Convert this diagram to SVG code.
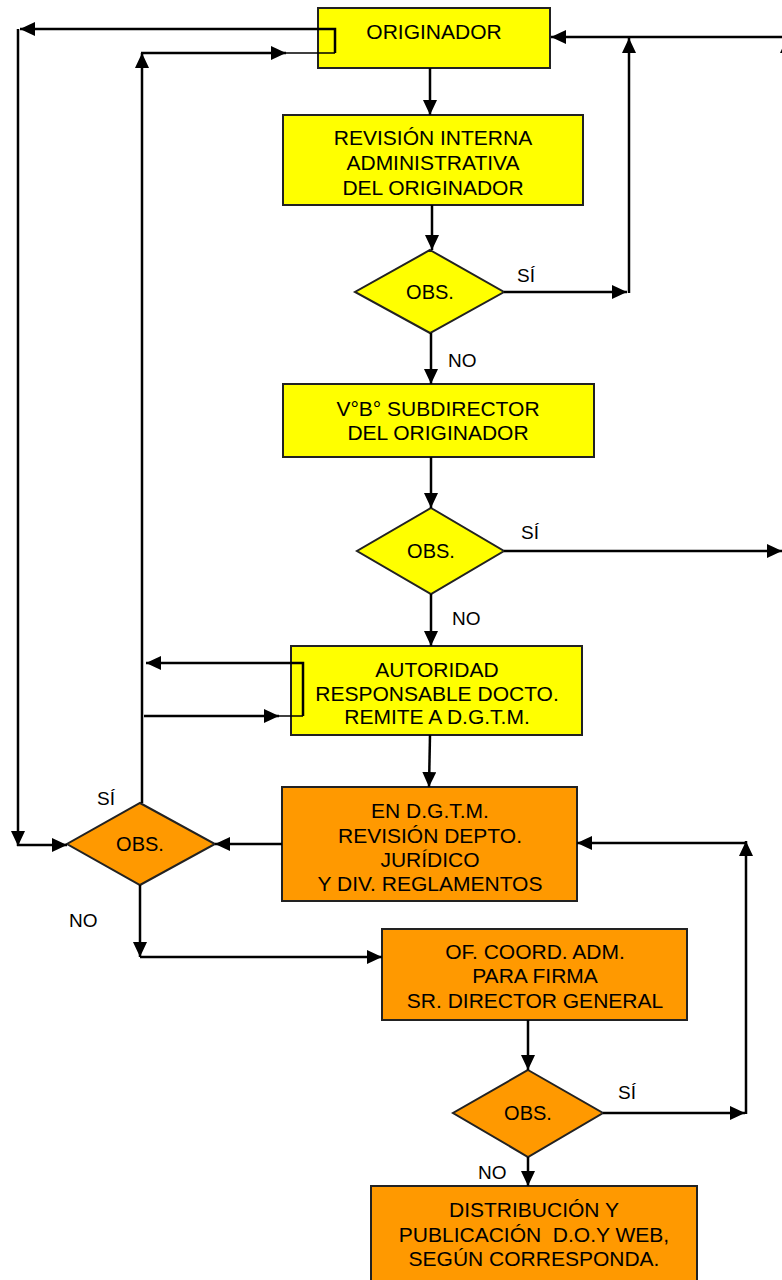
<svg xmlns="http://www.w3.org/2000/svg" width="782" height="1280" viewBox="0 0 782 1280">
<style>
.y{fill:#FFFF00;stroke:#222;stroke-width:2}
.o{fill:#FF9900;stroke:#222;stroke-width:2}
.t{font-family:"Liberation Sans",Arial,sans-serif;font-size:21px;fill:#000;text-anchor:middle}
.d{font-family:"Liberation Sans",Arial,sans-serif;font-size:20px;fill:#000;text-anchor:middle}
.l{font-family:"Liberation Sans",Arial,sans-serif;font-size:19px;fill:#000}
.c{fill:none;stroke:#000;stroke-width:2.5}
.th{fill:none;stroke:#000;stroke-width:1.5}
</style>
<defs>
<marker id="a" markerUnits="userSpaceOnUse" markerWidth="15" markerHeight="14" refX="15" refY="7" orient="auto">
<path d="M0,0 L15,7 L0,14 z" fill="#000"/>
</marker>
</defs>
<g id="n1"><rect class="y" x="318" y="8" width="232" height="60"/><text class="t" x="434" y="39">ORIGINADOR</text></g>
<g id="n2"><rect class="y" x="283" y="115" width="300" height="90"/><text class="t" x="433" y="145">REVISIÓN INTERNA</text><text class="t" x="433" y="170">ADMINISTRATIVA</text><text class="t" x="433" y="195">DEL ORIGINADOR</text></g>
<g id="d1"><polygon class="y" points="430,250 504,292 430,333 355,292"/><text class="d" x="430" y="299">OBS.</text></g>
<g id="n3"><rect class="y" x="283" y="384" width="311" height="73"/><text class="t" x="438" y="416">V°B° SUBDIRECTOR</text><text class="t" x="438" y="440">DEL ORIGINADOR</text></g>
<g id="d2"><polygon class="y" points="431,508 504,551 431,594 357,551"/><text class="d" x="431" y="558">OBS.</text></g>
<g id="n4"><rect class="y" x="291" y="646" width="291" height="89"/><text class="t" x="437" y="677">AUTORIDAD</text><text class="t" x="437" y="701">RESPONSABLE DOCTO.</text><text class="t" x="437" y="724">REMITE A D.G.T.M.</text></g>
<g id="n5"><rect class="o" x="282" y="787" width="295" height="114"/><text class="t" x="430" y="818">EN D.G.T.M.</text><text class="t" x="430" y="843">REVISIÓN DEPTO.</text><text class="t" x="430" y="867">JURÍDICO</text><text class="t" x="430" y="891">Y DIV. REGLAMENTOS</text></g>
<g id="d3"><polygon class="o" points="140,803 215,844 140,885 67,844"/><text class="d" x="140" y="851">OBS.</text></g>
<g id="n6"><rect class="o" x="382" y="929" width="305" height="91"/><text class="t" x="535" y="959">OF. COORD. ADM.</text><text class="t" x="535" y="983">PARA FIRMA</text><text class="t" x="535" y="1008">SR. DIRECTOR GENERAL</text></g>
<g id="d4"><polygon class="o" points="528,1070 603,1113 528,1157 453,1113"/><text class="d" x="528" y="1120">OBS.</text></g>
<g id="n7"><rect class="o" x="371" y="1186" width="326" height="100"/><text class="t" x="534" y="1217">DISTRIBUCIÓN Y</text><text class="t" x="534" y="1242" xml:space="preserve">PUBLICACIÓN  D.O.Y WEB,</text><text class="t" x="534" y="1266">SEGÚN CORRESPONDA.</text></g>
<g id="connectors">
<line class="c" x1="430" y1="68" x2="430" y2="115" marker-end="url(#a)"/>
<line class="c" x1="432" y1="205" x2="432" y2="250" marker-end="url(#a)"/>
<line class="c" x1="504" y1="292" x2="627" y2="292" marker-end="url(#a)"/>
<line class="c" x1="629" y1="293" x2="629" y2="38" marker-end="url(#a)"/>
<line class="c" x1="782" y1="37" x2="551" y2="37" marker-end="url(#a)"/>
<line class="c" x1="787" y1="551" x2="787" y2="38" marker-end="url(#a)"/>
<line class="c" x1="431" y1="333" x2="431" y2="384" marker-end="url(#a)"/>
<line class="c" x1="431" y1="457" x2="431" y2="508" marker-end="url(#a)"/>
<line class="c" x1="504" y1="551" x2="782" y2="551" marker-end="url(#a)"/>
<line class="c" x1="431" y1="594" x2="431" y2="646" marker-end="url(#a)"/>
<line class="c" x1="430" y1="735" x2="429" y2="787" marker-end="url(#a)"/>
<polyline class="c" points="335,53 335,29 20,29" marker-end="url(#a)"/>
<line class="th" x1="285" y1="53" x2="335" y2="53"/>
<line class="c" x1="142" y1="803" x2="142" y2="53" marker-end="url(#a)"/>
<line class="c" x1="141" y1="53" x2="286" y2="53" marker-end="url(#a)"/>
<polyline class="c" points="18,29 18,846" marker-end="url(#a)"/>
<line class="c" x1="17" y1="845" x2="67" y2="845" marker-end="url(#a)"/>
<polyline class="c" points="303,716 303,663 146,663" marker-end="url(#a)"/>
<line class="th" x1="278" y1="716" x2="303" y2="716"/>
<line class="c" x1="144" y1="716" x2="279" y2="716" marker-end="url(#a)"/>
<line class="c" x1="282" y1="844" x2="215" y2="844" marker-end="url(#a)"/>
<line class="c" x1="140" y1="885" x2="140" y2="957" marker-end="url(#a)"/>
<line class="c" x1="140" y1="957" x2="382" y2="957" marker-end="url(#a)"/>
<line class="c" x1="528" y1="1020" x2="528" y2="1070" marker-end="url(#a)"/>
<line class="c" x1="603" y1="1113" x2="745" y2="1113" marker-end="url(#a)"/>
<line class="c" x1="746" y1="1114" x2="746" y2="841" marker-end="url(#a)"/>
<line class="c" x1="747" y1="843" x2="577" y2="843" marker-end="url(#a)"/>
<line class="c" x1="528" y1="1157" x2="528" y2="1186" marker-end="url(#a)"/>
</g>
<g id="labels">
<text class="l" x="517" y="282">SÍ</text>
<text class="l" x="448" y="367">NO</text>
<text class="l" x="521" y="539">SÍ</text>
<text class="l" x="452" y="625">NO</text>
<text class="l" x="97" y="805">SÍ</text>
<text class="l" x="69" y="927">NO</text>
<text class="l" x="618" y="1099">SÍ</text>
<text class="l" x="478" y="1179">NO</text>
</g>
</svg>
